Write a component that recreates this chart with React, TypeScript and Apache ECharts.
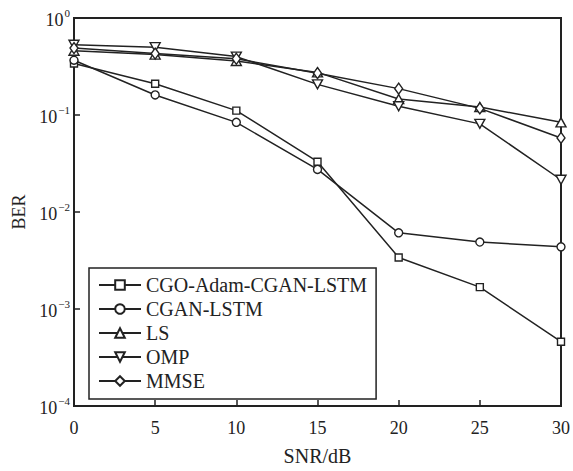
import React, { useEffect, useRef } from "react";
import * as echarts from "echarts";

const snr = [0, 5, 10, 15, 20, 25, 30];
const seriesNames = ["CGO-Adam-CGAN-LSTM", "CGAN-LSTM", "LS", "OMP", "MMSE"];
const berCgoAdam = [0.34, 0.21, 0.111, 0.033, 0.0034, 0.00168, 0.00046];
const berCganLstm = [0.367, 0.161, 0.084, 0.0275, 0.0061, 0.0049, 0.00437];
const berLs = [0.46, 0.42, 0.36, 0.275, 0.146, 0.121, 0.084];
const berOmp = [0.53, 0.5, 0.4, 0.207, 0.123, 0.081, 0.0215];
const berMmse = [0.49, 0.43, 0.38, 0.27, 0.187, 0.117, 0.058];
const yTickExp = [0, -1, -2, -3, -4];

const FONT = '"Liberation Serif", "Times New Roman", serif';
const INK = "#222222";

export default function App() {
  const ref = useRef<HTMLDivElement>(null);
  useEffect(() => {
    if (!ref.current) return;
    const chart = echarts.init(ref.current, null, { renderer: "svg" });
    const allData = [berCgoAdam, berCganLstm, berLs, berOmp, berMmse];
    const symbols: any[] = [
      "rect",
      "circle",
      "path://M5,0 L10,10 L0,10 Z",
      "path://M0,0 L10,0 L5,10 Z",
      "diamond",
    ];
    const sizes: any[] = [7, 8, [10, 9], [10, 9], [8, 11]];
    const series = seriesNames.map((name, i) => ({
      name,
      type: "line",
      data: snr.map((x, j) => [x, allData[i][j]]),
      symbol: symbols[i],
      symbolSize: sizes[i],
      showAllSymbol: true,
      lineStyle: { color: INK, width: 1.5 },
      itemStyle: { color: "#ffffff", borderColor: INK, borderWidth: 1.4 },
      emphasis: { disabled: true },
      z: 2 + i,
    }));
    chart.setOption({
      animation: false,
      textStyle: { fontFamily: FONT },
      grid: {
        left: 74,
        right: 11,
        top: 18,
        bottom: 61,
        show: true,
        borderColor: INK,
        borderWidth: 2,
        backgroundColor: "transparent",
      },
      legend: {
        orient: "vertical",
        left: 89,
        top: 268,
        data: seriesNames,
        itemWidth: 42,
        itemHeight: 12,
        itemGap: 4,
        padding: [7, 9, 8, 9],
        borderColor: INK,
        borderWidth: 1.5,
        backgroundColor: "#ffffff",
        textStyle: { fontFamily: FONT, fontSize: 20, color: INK, lineHeight: 20 },
        selectedMode: false,
      },
      xAxis: {
        type: "value",
        min: 0,
        max: 30,
        interval: 5,
        name: "SNR/dB",
        nameLocation: "middle",
        nameGap: 40,
        nameTextStyle: { fontFamily: FONT, fontSize: 20, color: INK },
        axisLine: { show: true, lineStyle: { color: INK, width: 2 } },
        axisTick: { show: true, inside: true, length: 6, lineStyle: { color: INK, width: 1.5 } },
        axisLabel: { fontFamily: FONT, fontSize: 18, color: INK, margin: 13 },
        splitLine: { show: false },
      },
      yAxis: {
        type: "log",
        logBase: 10,
        min: Math.pow(10, yTickExp[yTickExp.length - 1]),
        max: Math.pow(10, yTickExp[0]),
        name: "BER",
        nameLocation: "middle",
        nameGap: 45,
        nameRotate: 90,
        nameTextStyle: { fontFamily: FONT, fontSize: 18, color: INK },
        axisLine: { show: true, lineStyle: { color: INK, width: 2 } },
        axisTick: { show: true, inside: true, length: 6, lineStyle: { color: INK, width: 1.5 } },
        minorTick: { show: false },
        splitLine: { show: false },
        axisLabel: {
          margin: 4,
          formatter: (v: number) => {
            const e = Math.round(Math.log10(v));
            const s = e === 0 ? "0" : "\u2212" + String(-e);
            return "{b|10}{e|" + s + "}";
          },
          rich: {
            b: { fontFamily: FONT, fontSize: 18, color: INK, lineHeight: 22, verticalAlign: "bottom" },
            e: { fontFamily: FONT, fontSize: 11, color: INK, lineHeight: 22, verticalAlign: "top", padding: [0, 0, 0, 1] },
          },
        },
      },
      series,
    });
    return () => chart.dispose();
  }, []);
  return (
    <div
      ref={ref}
      style={{ position: "fixed", left: 0, top: 0, width: 573, height: 471, background: "#fff" }}
    />
  );
}
